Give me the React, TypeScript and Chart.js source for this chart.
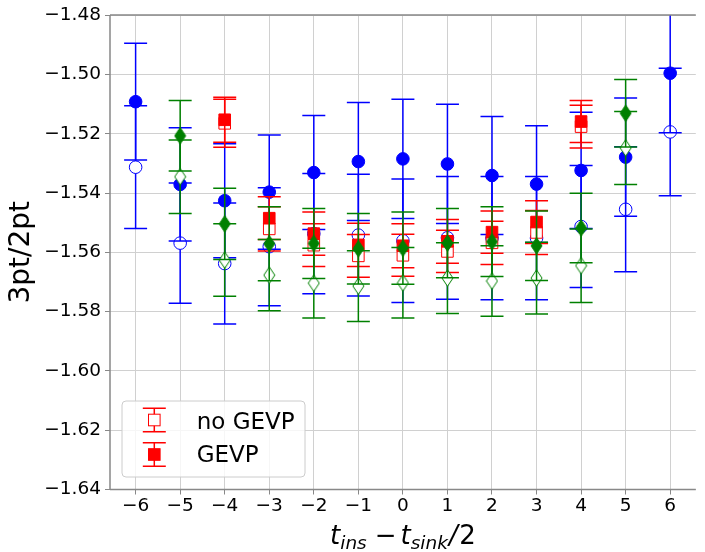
import React, { useEffect, useRef } from 'react';
import { Chart, registerables } from 'chart.js';

Chart.register(...registerables);

// ---------- data ----------
const xBlue = [-6, -5, -4, -3, -2, -1, 0, 1, 2, 3, 4, 5, 6];
const blueFilledY = [-1.5092, -1.5371, -1.5426, -1.5397, -1.5331, -1.5294, -1.5285, -1.5302, -1.5341, -1.537, -1.5324, -1.5279, -1.4996];
const blueFilledErr = [0.0197, 0.0191, 0.0192, 0.0193, 0.0192, 0.0199, 0.0201, 0.0201, 0.0199, 0.0197, 0.0196, 0.0199, 0.0201];
const blueOpenY = [-1.5313, -1.5569, -1.5638, -1.5581, -1.5537, -1.5542, -1.5561, -1.5551, -1.5552, -1.5552, -1.5513, -1.5455, -1.5194];
const blueOpenErr = [0.0207, 0.0203, 0.0204, 0.0199, 0.0203, 0.0205, 0.0208, 0.0207, 0.0208, 0.0208, 0.0206, 0.0211, 0.0215];

const xGreen = [-5, -4, -3, -2, -1, 0, 1, 2, 3, 4, 5];
const greenFilledY = [-1.5207, -1.5504, -1.5571, -1.557, -1.5588, -1.5586, -1.5569, -1.5564, -1.5578, -1.5518, -1.5131];
const greenFilledErr = [0.0119, 0.012, 0.0125, 0.0118, 0.0119, 0.0122, 0.0117, 0.0118, 0.0117, 0.0117, 0.0114];
const greenOpenY = [-1.5345, -1.5626, -1.5677, -1.5704, -1.5714, -1.5703, -1.5687, -1.5697, -1.5687, -1.5645, -1.5248];
const greenOpenErr = [0.0124, 0.0122, 0.012, 0.0118, 0.0119, 0.0119, 0.0119, 0.0119, 0.0121, 0.0124, 0.0123];

const xRed = [-4, -3, -2, -1, 0, 1, 2, 3, 4];
const redFilledY = [-1.5153, -1.5485, -1.5537, -1.5575, -1.5578, -1.5563, -1.5532, -1.5498, -1.5159];
const redFilledErr = [0.0076, 0.0072, 0.0073, 0.0073, 0.0074, 0.0074, 0.0071, 0.0072, 0.0071];
const redOpenY = [-1.5165, -1.5521, -1.5576, -1.5612, -1.561, -1.5597, -1.5568, -1.5533, -1.5176];
const redOpenErr = [0.0081, 0.0075, 0.0072, 0.0072, 0.0071, 0.0071, 0.0073, 0.0074, 0.0072];

const xTicks = [-6, -5, -4, -3, -2, -1, 0, 1, 2, 3, 4, 5, 6];
const yTicks = [-1.64, -1.62, -1.6, -1.58, -1.56, -1.54, -1.52, -1.5, -1.48];
const legendLabels = ['no GEVP', 'GEVP'];

const BLUE = '#0000ff';
const GREEN = '#008000';
const RED = '#ff0000';
const FONT = '"DejaVu Sans", sans-serif';

function makeDiamond(fill: string, stroke: string): HTMLCanvasElement {
  const w = 13, h = 18;
  const c = document.createElement('canvas');
  c.width = w; c.height = h;
  const g = c.getContext('2d')!;
  g.beginPath();
  g.moveTo(w / 2, 0.8);
  g.lineTo(w - 1, h / 2);
  g.lineTo(w / 2, h - 0.8);
  g.lineTo(1, h / 2);
  g.closePath();
  g.fillStyle = fill;
  g.fill();
  g.strokeStyle = stroke;
  g.lineWidth = 1;
  g.stroke();
  return c;
}

const pts = (xs: number[], ys: number[]) => xs.map((x, i) => ({ x, y: ys[i] }));

const errorBarPlugin = {
  id: 'errorBars',
  beforeDatasetDraw(chart: any, args: any) {
    const ds = chart.data.datasets[args.index];
    const errs: number[] | undefined = ds.errors;
    if (!errs) return;
    const { ctx, chartArea, scales } = chart;
    const xs = scales.x, ys = scales.y;
    ctx.save();
    ctx.beginPath();
    ctx.rect(chartArea.left, chartArea.top, chartArea.right - chartArea.left, chartArea.bottom - chartArea.top);
    ctx.clip();
    ctx.strokeStyle = ds.errColor;
    ctx.lineWidth = 1.5;
    const cap = 11.5;
    ds.data.forEach((p: any, i: number) => {
      const px = xs.getPixelForValue(p.x);
      const yt = ys.getPixelForValue(p.y + errs[i]);
      const yb = ys.getPixelForValue(p.y - errs[i]);
      ctx.beginPath();
      ctx.moveTo(px, yt); ctx.lineTo(px, yb);
      ctx.moveTo(px - cap, yt); ctx.lineTo(px + cap, yt);
      ctx.moveTo(px - cap, yb); ctx.lineTo(px + cap, yb);
      ctx.stroke();
    });
    ctx.restore();
  },
};

const decorPlugin = {
  id: 'decor',
  afterDraw(chart: any) {
    const { ctx, chartArea } = chart;
    const { left, right, top, bottom } = chartArea;
    ctx.save();
    // spines
    ctx.strokeStyle = '#888888';
    ctx.lineWidth = 1.5;
    ctx.beginPath();
    ctx.moveTo(left, top); ctx.lineTo(right, top);
    ctx.moveTo(left, top); ctx.lineTo(left, bottom);
    ctx.moveTo(left, bottom); ctx.lineTo(right, bottom);
    ctx.stroke();

    // y title
    ctx.fillStyle = '#000';
    ctx.font = `28px ${FONT}`;
    ctx.textAlign = 'center';
    ctx.textBaseline = 'alphabetic';
    ctx.save();
    ctx.translate(29, (top + bottom) / 2);
    ctx.rotate(-Math.PI / 2);
    ctx.fillText('3pt/2pt', 0, 0);
    ctx.restore();

    // x title: t_ins − t_sink/2 (mathtext-like)
    const big = 26, small = 18.5;
    const parts: { t: string; f: string; dy: number; gap: number }[] = [
      { t: 't', f: `italic ${big}px ${FONT}`, dy: 0, gap: 0 },
      { t: 'ins', f: `italic ${small}px ${FONT}`, dy: 5, gap: 8 },
      { t: '\u2212', f: `${big}px ${FONT}`, dy: 0, gap: 4 },
      { t: 't', f: `italic ${big}px ${FONT}`, dy: 0, gap: 0 },
      { t: 'sink', f: `italic ${small}px ${FONT}`, dy: 5, gap: 1 },
      { t: '/', f: `italic ${big}px ${FONT}`, dy: 0, gap: 1.5 },
      { t: '2', f: `${big}px ${FONT}`, dy: 0, gap: 0 },
    ];
    let total = 0;
    const widths = parts.map((p) => { ctx.font = p.f; const w = ctx.measureText(p.t).width + p.gap; total += w; return w; });
    let cx = (left + right) / 2 - total / 2;
    const base = 543.5;
    ctx.textAlign = 'left';
    parts.forEach((p, i) => {
      ctx.font = p.f;
      ctx.fillText(p.t, cx, base + p.dy);
      cx += widths[i];
    });

    // legend
    const lx = 122, ly = 401, lw = 183, lh = 76;
    ctx.beginPath();
    ctx.roundRect(lx, ly, lw, lh, 4);
    ctx.fillStyle = 'rgba(255,255,255,0.8)';
    ctx.fill();
    ctx.strokeStyle = '#cccccc';
    ctx.lineWidth = 1;
    ctx.stroke();
    const gx = 154.3;
    const entries = [
      { cy: 420, filled: false, base: 428.5 },
      { cy: 454.5, filled: true, base: 462 },
    ];
    entries.forEach((e, i) => {
      ctx.strokeStyle = RED;
      ctx.lineWidth = 1.5;
      ctx.beginPath();
      ctx.moveTo(gx, e.cy - 11.7); ctx.lineTo(gx, e.cy + 11.7);
      ctx.moveTo(gx - 11.5, e.cy - 11.7); ctx.lineTo(gx + 11.5, e.cy - 11.7);
      ctx.moveTo(gx - 11.5, e.cy + 11.7); ctx.lineTo(gx + 11.5, e.cy + 11.7);
      ctx.stroke();
      const s = 11.6;
      ctx.fillStyle = e.filled ? RED : '#ffffff';
      ctx.fillRect(gx - s / 2, e.cy - s / 2, s, s);
      ctx.lineWidth = 1;
      ctx.strokeRect(gx - s / 2, e.cy - s / 2, s, s);
      ctx.fillStyle = '#000';
      ctx.font = `23px ${FONT}`;
      ctx.textAlign = 'left';
      ctx.textBaseline = 'alphabetic';
      ctx.fillText(legendLabels[i], 196.7, e.base);
    });
    ctx.restore();
  },
};

export default function App() {
  const ref = useRef<HTMLCanvasElement | null>(null);
  useEffect(() => {
    if (!ref.current) return;
    const dFilled = makeDiamond(GREEN, GREEN);
    const dOpen = makeDiamond('#ffffff', GREEN);
    const circle = (fill: string) => ({
      pointStyle: 'circle', pointRadius: 6.3, pointHoverRadius: 6.3,
      pointBackgroundColor: fill, pointBorderColor: BLUE, pointBorderWidth: 1,
    });
    const square = (fill: string) => ({
      pointStyle: 'rect', pointRadius: 8.2, pointHoverRadius: 8.2,
      pointBackgroundColor: fill, pointBorderColor: RED, pointBorderWidth: 1,
    });
    const diamond = (img: HTMLCanvasElement) => ({
      pointStyle: img, pointRadius: 8, pointHoverRadius: 8,
    });
    // first dataset is drawn on top
    const datasets: any[] = [
      { label: 'g filled', data: pts(xGreen, greenFilledY), errors: greenFilledErr, errColor: GREEN, ...diamond(dFilled) },
      { label: 'g open', data: pts(xGreen, greenOpenY), errors: greenOpenErr, errColor: GREEN, ...diamond(dOpen) },
      { label: legendLabels[1], data: pts(xRed, redFilledY), errors: redFilledErr, errColor: RED, ...square(RED) },
      { label: legendLabels[0], data: pts(xRed, redOpenY), errors: redOpenErr, errColor: RED, ...square('#ffffff') },
      { label: 'b filled', data: pts(xBlue, blueFilledY), errors: blueFilledErr, errColor: BLUE, ...circle(BLUE) },
      { label: 'b open', data: pts(xBlue, blueOpenY), errors: blueOpenErr, errColor: BLUE, ...circle('#ffffff') },
    ].map((d) => ({ ...d, showLine: false, clip: false }));

    const chart = new Chart(ref.current, {
      type: 'scatter',
      data: { datasets },
      options: {
        responsive: false,
        animation: false,
        devicePixelRatio: 1,
        layout: { padding: { top: 13, right: 0, left: 0, bottom: 0 } },
        plugins: { legend: { display: false }, tooltip: { enabled: false }, title: { display: false } },
        scales: {
          x: {
            type: 'linear',
            min: -6.575,
            max: 6.575,
            afterBuildTicks: (s: any) => { s.ticks = xTicks.map((v) => ({ value: v })); },
            afterFit: (s: any) => { s.height = 62.5; },
            grid: { color: '#d0d0d0', lineWidth: 1, tickColor: '#888888', tickLength: 5 },
            border: { display: false },
            ticks: {
              color: '#000',
              font: { family: FONT, size: 18.5 },
              padding: 1,
              maxRotation: 0,
              autoSkip: false,
              callback: (v: any) => (Number(v) < 0 ? '\u2212' + Math.abs(Number(v)) : String(v)),
            },
          },
          y: {
            type: 'linear',
            min: -1.64,
            max: -1.48,
            afterBuildTicks: (s: any) => { s.ticks = yTicks.map((v) => ({ value: v })); },
            afterFit: (s: any) => { s.width = 110; },
            grid: { color: '#d0d0d0', lineWidth: 1, tickColor: '#888888', tickLength: 5 },
            border: { display: false },
            ticks: {
              color: '#000',
              font: { family: FONT, size: 18.5 },
              padding: 4,
              autoSkip: false,
              callback: (v: any) => '\u2212' + Math.abs(Number(v)).toFixed(2),
            },
          },
        },
      },
      plugins: [errorBarPlugin, decorPlugin],
    } as any);
    return () => chart.destroy();
  }, []);

  return (
    <canvas
      ref={ref}
      width={705}
      height={552}
      style={{ position: 'absolute', left: 0, top: 0, width: 705, height: 552, background: '#fff' }}
    />
  );
}
